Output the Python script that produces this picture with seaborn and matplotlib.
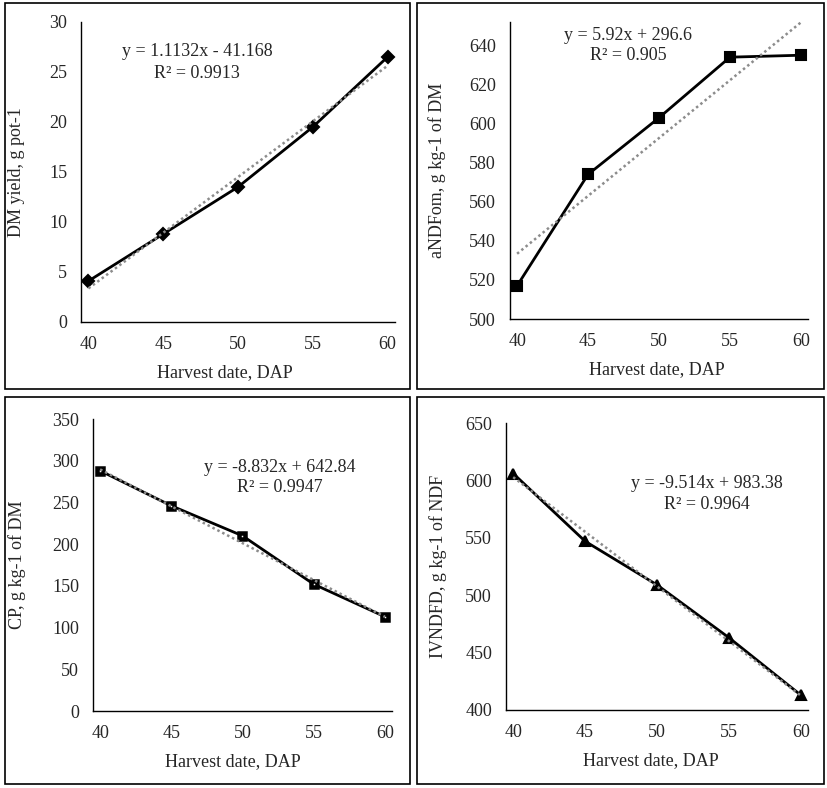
import numpy as np
import pandas as pd
import matplotlib
matplotlib.use("Agg")
import matplotlib.pyplot as plt
from matplotlib.patches import Rectangle
import seaborn as sns

sns.set_style("white")
plt.rcParams['font.family'] = ['Liberation Serif', 'DejaVu Serif']
plt.rcParams['font.size'] = 13

# harvest dates (days after planting)
dap = [40, 45, 50, 55, 60]

dm_yield = [4.1, 8.8, 13.5, 19.5, 26.5]
andfom = [517, 574, 603, 634, 635]
cp = [288, 246, 210, 152, 113]
ivndfd = [606, 547, 509, 463, 413]

# linear trend lines printed on each panel
slopes = [1.1132, 5.92, -8.832, -9.514]
intercepts = [-41.168, 296.6, 642.84, 983.38]
r2 = ["0.9913", "0.905", "0.9947", "0.9964"]
eq_text = ["y = 1.1132x - 41.168", "y = 5.92x + 296.6",
           "y = -8.832x + 642.84", "y = -9.514x + 983.38"]

ylabels = ["DM yield, g pot-1", "aNDFom, g kg-1 of DM",
           "CP, g kg-1 of DM", "IVNDFD, g kg-1 of NDF"]
yticks = [np.arange(0, 31, 5), np.arange(500, 641, 20),
          np.arange(0, 351, 50), np.arange(400, 651, 50)]
ylims = [(0, 30), (500, 652), (0, 350), (400, 650)]
markers = ["D", "s", "s", "^"]
msizes = [6, 7.5, 4.75, 7]
mfaces = ["black", "black", "white", "black"]
mews = [1.5, 1.5, 3.25, 1.5]

W, H = 827, 788
fig = plt.figure(figsize=(W / 100, H / 100), dpi=100)

def px_box(left, right, top, bottom):
    return [left / W, (H - bottom) / H, (right - left) / W, (bottom - top) / H]

ax_boxes = [px_box(81, 395, 22, 322), px_box(510, 808, 22, 319),
            px_box(93, 392, 419, 711), px_box(506, 808, 423, 710)]
frames = [(5, 410, 3, 389), (417, 824, 3, 389),
          (5, 410, 397, 784), (417, 824, 397, 784)]
# equation text centres (pixels)
eq_pos = [(197, 52), (628, 35), (280, 467), (707, 484)]
ylabel_pads = [17, 17, 19, 13]
xlabel_shift = [-13, -2, -10, -6]

series = [dm_yield, andfom, cp, ivndfd]

for i in range(4):
    ax = fig.add_axes(ax_boxes[i])
    df = pd.DataFrame({"DAP": dap, "val": series[i]})
    x_tr = np.array([dap[0], dap[-1]])
    ax.plot(x_tr, slopes[i] * x_tr + intercepts[i], linestyle=(0, (1, 1.2)),
            color="#8c8c8c", linewidth=1.8, zorder=3, clip_on=False)
    sns.lineplot(data=df, x="DAP", y="val", ax=ax, color="black",
                 linewidth=2, marker=markers[i], markersize=msizes[i],
                 markeredgecolor="black", markerfacecolor=mfaces[i],
                 markeredgewidth=mews[i], zorder=2)
    ax.set_xlim(39.5, 60.5)
    ax.set_ylim(*ylims[i])
    ax.set_xticks(dap)
    ax.set_yticks(yticks[i])
    ax.tick_params(length=0, pad=10, labelsize=13)
    for s in ["top", "right"]:
        ax.spines[s].set_visible(False)
    for s in ["left", "bottom"]:
        ax.spines[s].set_color("black")
        ax.spines[s].set_linewidth(1)
    ax.set_xlabel("Harvest date, DAP", fontsize=13, labelpad=8)
    ax.set_ylabel(ylabels[i], fontsize=13, labelpad=ylabel_pads[i])
    wpx = ax_boxes[i][2] * W
    ax.xaxis.label.set_x(0.5 + xlabel_shift[i] / wpx)

    cx, cy = eq_pos[i]
    fig.text(cx / W, 1 - cy / H, eq_text[i], ha="center", va="center", fontsize=13)
    fig.text(cx / W, 1 - (cy + 21) / H, "R\u00b2 = " + r2[i], ha="center", va="center", fontsize=13)

    l, r, t, b = frames[i]
    fig.add_artist(Rectangle((l / W, 1 - b / H), (r - l) / W, (b - t) / H,
                             transform=fig.transFigure, fill=False,
                             edgecolor="black", linewidth=1.2))

fig.savefig("out.png", dpi=100)
